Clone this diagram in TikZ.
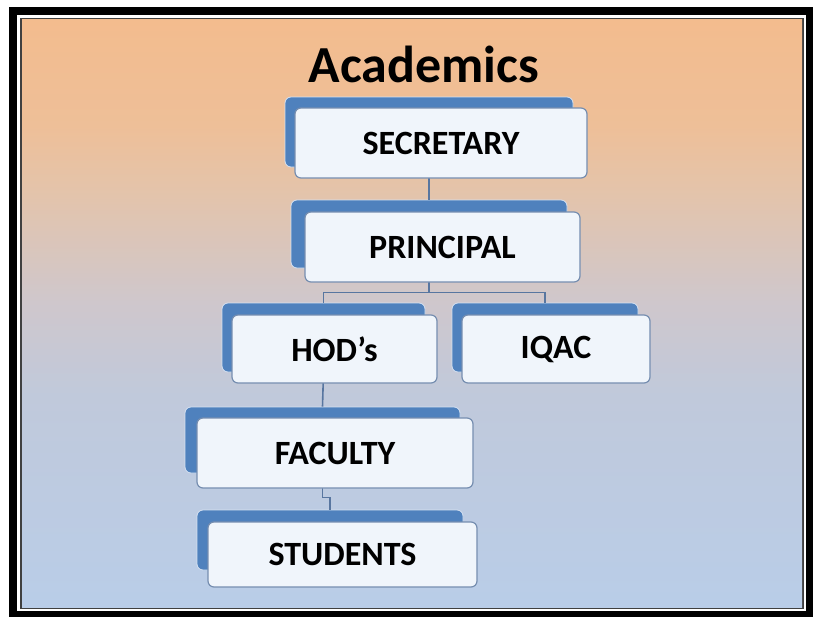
\documentclass[tikz,border=0pt]{standalone}
\usepackage{fontspec}
\setmainfont{Carlito}
\usetikzlibrary{positioning, calc}

\definecolor{bgorange}{RGB}{243,188,142}
\definecolor{bgpeach}{RGB}{238,191,152}
\definecolor{bgtan}{RGB}{227,196,172}
\definecolor{bgmid}{RGB}{207,199,204}
\definecolor{bgslate}{RGB}{192,201,219}
\definecolor{bgblue}{RGB}{185,205,232}
\definecolor{backblue}{RGB}{79,129,189}
\definecolor{backedge}{RGB}{214,226,242}
\definecolor{boxfill}{RGB}{240,245,251}
\definecolor{boxedge}{RGB}{118,142,176}
\definecolor{linkblue}{RGB}{88,118,160}

\pgfdeclareverticalshading{acadbg}{100bp}{color(0bp)=(bgblue); color(25bp)=(bgblue);
  color(43bp)=(bgslate); color(51bp)=(bgmid); color(60bp)=(bgtan);
  color(66bp)=(bgpeach); color(75bp)=(bgorange); color(100bp)=(bgorange)}

\begin{document}
\begin{tikzpicture}[
    x=1pt, y=-1pt,
    backbox/.style={rectangle, rounded corners=6pt, fill=backblue, draw=backedge, line width=0.8pt, inner sep=0pt},
    frontbox/.style={rectangle, rounded corners=6pt, fill=boxfill, draw=boxedge, line width=1.2pt, inner sep=0pt, text centered, font=\fontsize{34}{40}\selectfont\bfseries},
    link/.style={draw=linkblue, line width=1.6pt}
]

\useasboundingbox (0,0) rectangle (814,618);

% Frame and background
\fill[black] (9,7) rectangle (813,617);
\fill[white] (17,15) rectangle (806,611);
\fill[black!75] (20,18) rectangle (804,609);
\shade[shading=acadbg] (22,20) rectangle (802,607);

% Title
\node[anchor=base, font=\fontsize{52}{60}\selectfont\bfseries] (title) at (424,83) {Academics};

% Back boxes
\node[backbox, minimum width=288pt, minimum height=70pt] (sec) at (429,132) {};
\node[backbox, minimum width=276pt, minimum height=68pt] (prin) at (429,234) {};
\node[backbox, minimum width=203pt, minimum height=69pt] (hod) at (323.5,337.5) {};
\node[backbox, minimum width=186pt, minimum height=69pt] (iqac) at (545,337.5) {};
\node[backbox, minimum width=275pt, minimum height=66pt] (fac) at (322.5,440) {};
\node[backbox, minimum width=266pt, minimum height=60pt] (stu) at (330,540) {};

% Connectors
\draw[link] (sec.south) -- (prin.north);
\draw[link] (prin.south) -- ++(0,24) -| (hod.north);
\draw[link] (prin.south) -- ++(0,24) -| (iqac.north);
\draw[link] (hod.south) -- (fac.north);
\draw[link] (fac.south) -- ++(0,24) -| (stu.north);

% Front boxes
\node[frontbox, minimum width=292pt, minimum height=70pt] (secF) at ($(sec)+(12,11)$) {SECRETARY};
\node[frontbox, minimum width=275pt, minimum height=70pt] (prinF) at ($(prin)+(13.5,13)$) {PRINCIPAL};
\node[frontbox, minimum width=205pt, minimum height=68pt] (hodF) at ($(hod)+(11,11.5)$) {HOD’s};
\node[frontbox, minimum width=188pt, minimum height=68pt] (iqacF) at ($(iqac)+(11,11.5)$) {IQAC};
\node[frontbox, minimum width=276pt, minimum height=70pt] (facF) at ($(fac)+(12.5,13)$) {FACULTY};
\node[frontbox, minimum width=269pt, minimum height=65pt] (stuF) at ($(stu)+(12.5,14.5)$) {STUDENTS};

\end{tikzpicture}
\end{document}
